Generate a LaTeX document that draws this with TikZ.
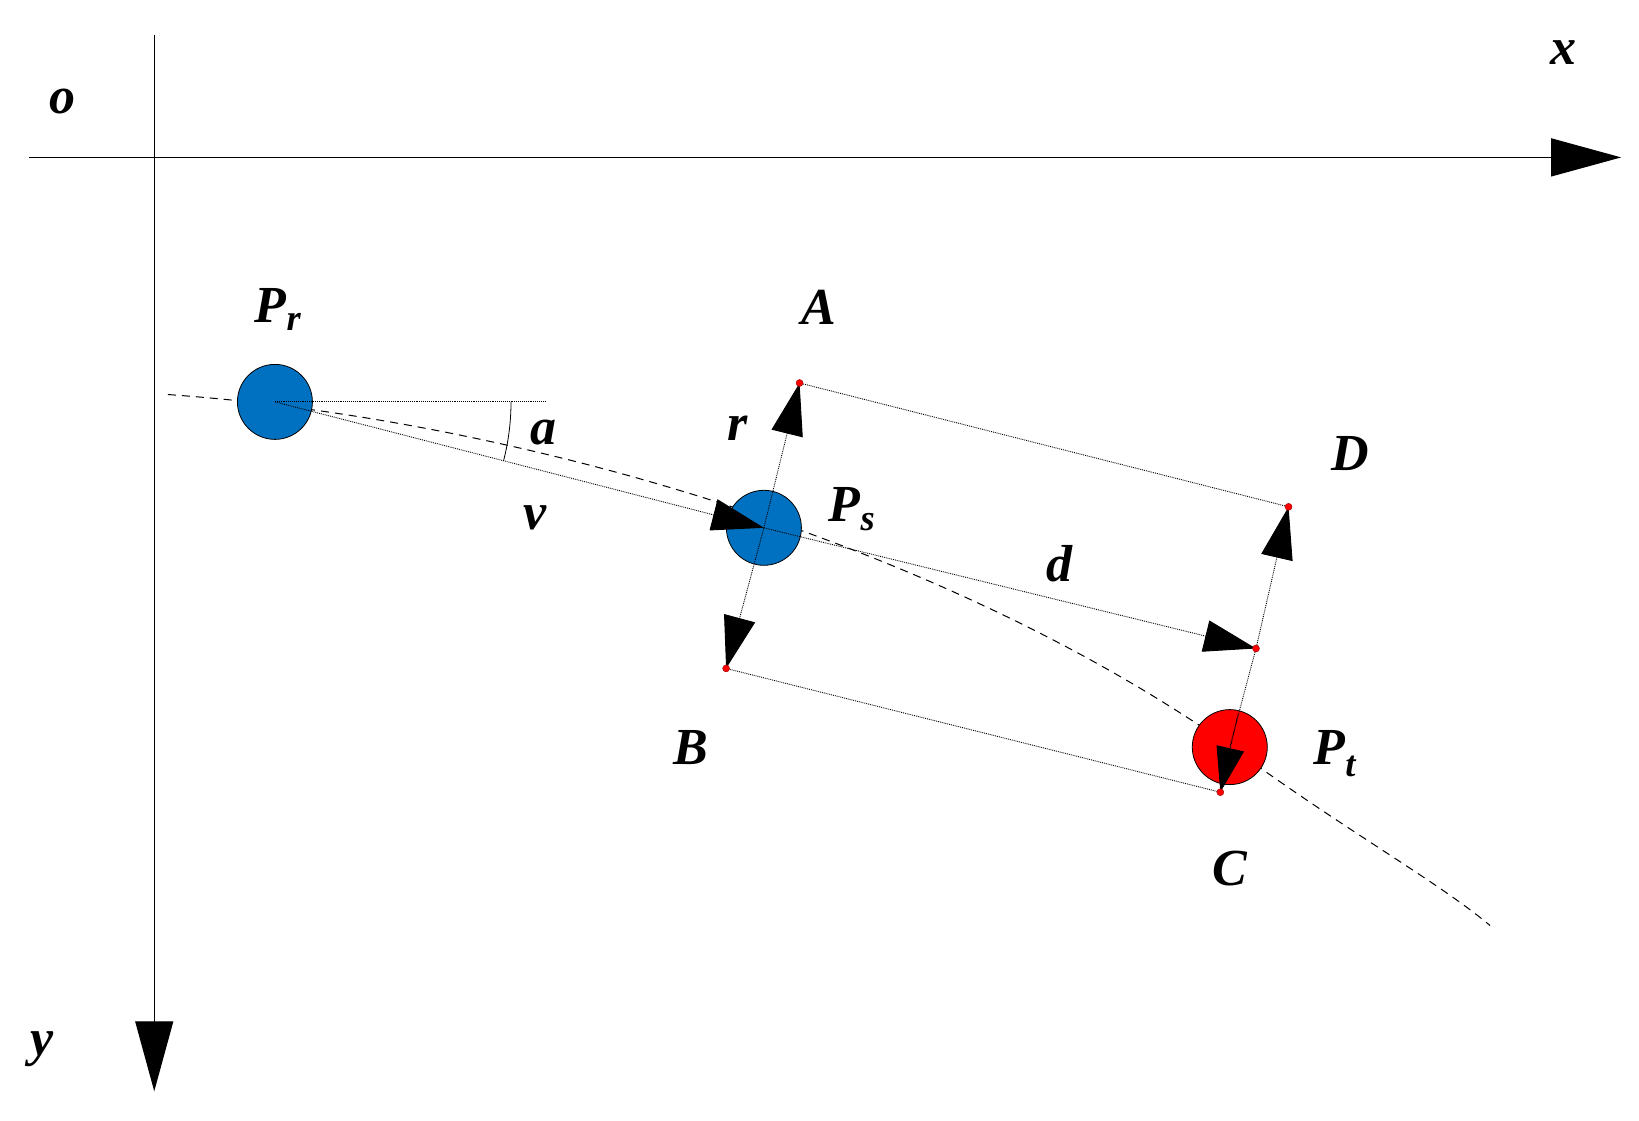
\documentclass[tikz,border=0pt]{standalone}
\usepackage{fontspec}
\setmainfont{Liberation Serif}
\usetikzlibrary{arrows.meta}
\begin{document}
\begin{tikzpicture}[x=1.0493pt,y=-1.0493pt,
  lbl/.style={font=\fontsize{52}{56}\selectfont\bfseries\itshape},
  big/.style={-{Triangle[length=70pt,width=38pt]}},
  med/.style={-{Triangle[length=52pt,width=32pt]}},
  dl/.style={line width=0.9pt,densely dotted},
  ball/.style={circle,draw=black,line width=0.8pt,minimum size=75pt,inner sep=0pt},
  dot/.style={circle,fill=red,draw=red!60!black,inner sep=0pt,minimum size=7pt}]
\coordinate (xs) at (28,150); \coordinate (xe) at (1545,150);
\coordinate (ys) at (147,33); \coordinate (ye) at (147,1040);
\draw[line width=1.3pt,big] (xs) -- (xe);
\draw[line width=1.3pt,big] (ys) -- (ye);
\node[lbl] (o) at (60,97) {o};
\node[lbl] (xl) at (1490,50) {x};
\node[lbl] (yl) at (40,1000) {y};
\coordinate (c0) at (160,376); \coordinate (c1) at (1420,882);
\draw[line width=1pt,dash pattern=on 8pt off 6pt] (c0) .. controls (500,400) and (900,520) .. (1175,713) .. controls (1280,790) and (1370,840) .. (c1);
\node[ball,fill={rgb,255:red,0;green,112;blue,192}] (Pr) at (262,383) {};
\node[ball,fill={rgb,255:red,0;green,112;blue,192}] (Ps) at (728,503) {};
\node[ball,fill=red] (Pt) at (1172,712) {};
\coordinate (h) at (520,383);
\draw[dl] (Pr.center) -- (h);
\draw[line width=0.8pt] ([shift={(0:225)}]Pr.center) arc (0:14.4:225);
\draw[dl,med] (Pr.center) -- (Ps.center);
\coordinate (A) at (762,365); \coordinate (B) at (692,637);
\coordinate (D) at (1228,483); \coordinate (E) at (1197,618);
\coordinate (C) at (1163,755);
\draw[dl,med] (Ps.center) -- (A);
\draw[dl,med] (Ps.center) -- (B);
\draw[dl,med] (Ps.center) -- (E);
\draw[dl,med] (E) -- (D);
\draw[dl] (E) -- (Pt.center);
\draw[dl] (A) -- (D);
\draw[dl] (B) -- (C);
\draw[dl,-{Triangle[length=45pt,width=28pt]}] (1180,680) -- (C);
\foreach \p in {A,B,C,D,E} \node[dot] at (\p) {};
\node[lbl] (lPr) at (265,295) {P\textsubscript{r}};
\node[lbl] (lPs) at (812,485) {P\textsubscript{s}};
\node[lbl] (lPt) at (1272,718) {P\textsubscript{t}};
\node[lbl] (la) at (518,412) {a};
\node[lbl] (lv) at (510,493) {v};
\node[lbl] (lr) at (703,408) {r};
\node[lbl] (ld) at (1010,537) {d};
\node[lbl] (lA) at (780,293) {A};
\node[lbl] (lB) at (658,712) {B};
\node[lbl] (lC) at (1172,828) {C};
\node[lbl] (lD) at (1287,432) {D};
\pgfresetboundingbox
\path[use as bounding box] (0,0) rectangle (1562,1068);
\end{tikzpicture}
\end{document}
